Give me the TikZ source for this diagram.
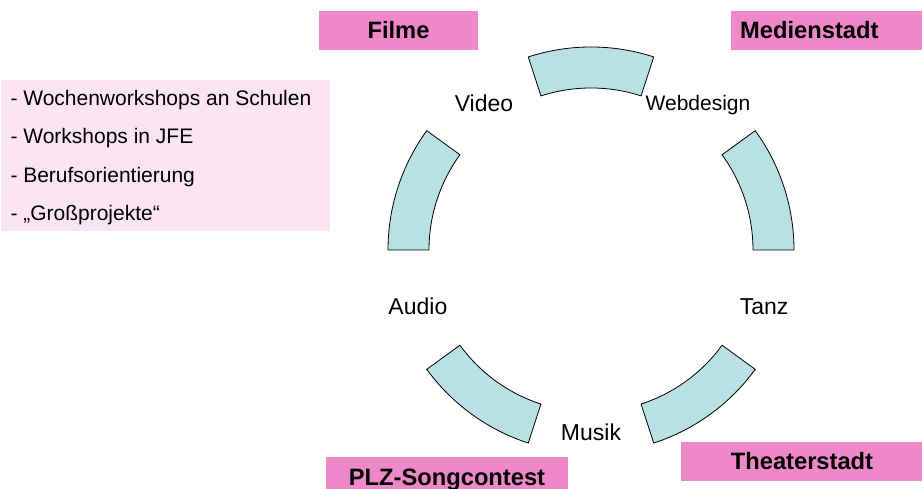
\documentclass[tikz,border=0pt]{standalone}
\usepackage{fontspec}
\setmainfont{Liberation Sans}
\definecolor{ringfill}{HTML}{B9E0E3}
\definecolor{tagpink}{HTML}{EE88C8}
\definecolor{listpink}{HTML}{FBE5F2}
\begin{document}
\begin{tikzpicture}[x=1pt,y=1pt,
  seg/.style={fill=ringfill,draw=black,line width=0.8pt,line join=miter},
  lbl/.style={inner sep=0pt,text height=16.5pt,text depth=0pt,font=\fontsize{23}{27}\selectfont},
  lblsmall/.style={inner sep=0pt,text height=15pt,text depth=0pt,font=\fontsize{21}{25}\selectfont},
  tag/.style={fill=tagpink,inner sep=0pt,minimum height=39pt,text height=17pt,text depth=0pt,font=\fontsize{23.7}{28}\selectfont\bfseries},
  listline/.style={anchor=base west,inner sep=0pt,font=\fontsize{21}{25}\selectfont}]
\useasboundingbox (0,0) rectangle (922,489);
\clip (0,0) rectangle (922,489);
\coordinate (c) at (591,239);
% ring segments
\foreach \a in {0,72,144,216,288}{
  \draw[seg] ([shift={(\a:203pt)}]c) arc[start angle=\a,end angle=\a+36,radius=203pt]
    -- ([shift={(\a+36:162pt)}]c) arc[start angle=\a+36,end angle=\a,radius=162pt] -- cycle;
}
% labels
\node[lblsmall] (web) at ([shift={(54:182pt)}]c) {Webdesign};
\node[lbl] (video) at ([shift={(126:182pt)}]c) {Video};
\node[lbl] (audio) at ([shift={(198:182pt)}]c) {Audio};
\node[lbl] (musik) at ([shift={(270:182pt)}]c) {Musik};
\node[lbl] (tanz) at ([shift={(342:182pt)}]c) {Tanz};
% list box
\fill[listpink] (1,258.3) rectangle (330,409);
\node[listline] (l1) at (10.3,383) {- Wochenworkshops an Schulen};
\node[listline] (l2) at (10.3,345) {- Workshops in JFE};
\node[listline] (l3) at (10.3,306.3) {- Berufsorientierung};
\node[listline] (l4) at (10.3,268.3) {- „Großprojekte“};
% tags
\node[tag,minimum width=159pt] (filme) at (398.5,458.5) {Filme};
\node[tag,anchor=west,text width=181pt,inner xsep=9pt,align=left] (medien) at (731,458.8) {Medienstadt};
\node[tag,minimum width=242pt] (theater) at (802,27.5) {Theaterstadt};
\node[tag,minimum width=242pt] (plz) at (447,12.2) {PLZ-Songcontest};
\end{tikzpicture}
\end{document}
